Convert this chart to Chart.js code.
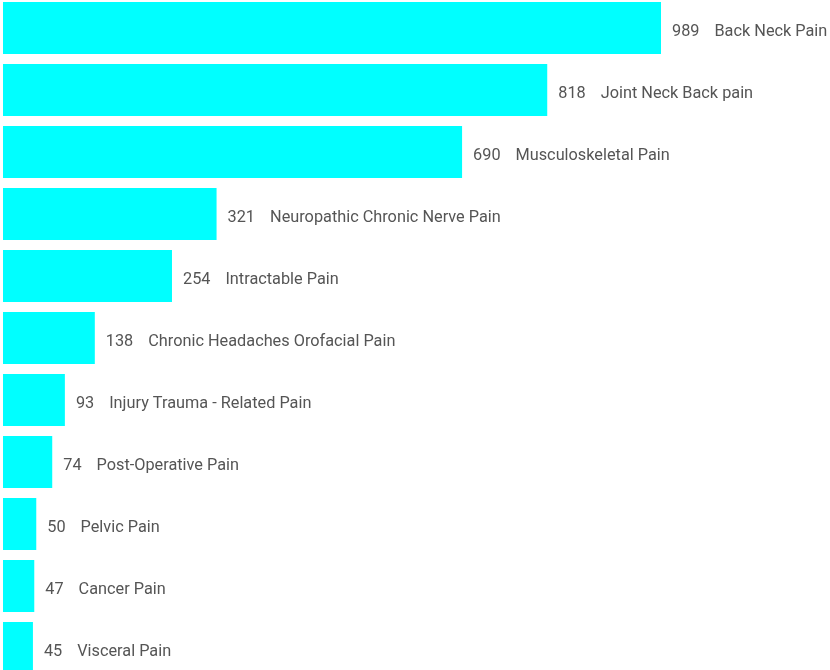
<!DOCTYPE html>
<html>
<head>
<meta charset="utf-8">
<script src="https://cdn.jsdelivr.net/npm/chart.js@4.4.0/dist/chart.umd.min.js"></script>
<style>
  html, body { margin: 0; padding: 0; background: #fff; overflow: hidden; }
  #wrap { position: absolute; left: 0; top: -3px; width: 830px; height: 682px; }
</style>
</head>
<body>
<div id="wrap"><canvas id="painChart"></canvas></div>
<script>
const categories = [
  "Back Neck Pain", "Joint Neck Back pain", "Musculoskeletal Pain",
  "Neuropathic Chronic Nerve Pain", "Intractable Pain",
  "Chronic Headaches Orofacial Pain", "Injury Trauma - Related Pain",
  "Post-Operative Pain", "Pelvic Pain", "Cancer Pain", "Visceral Pain"
];
const counts = [989, 818, 690, 321, 254, 138, 93, 74, 50, 47, 45];

// draws "value   name" just right of each bar
const barLabels = {
  id: "barLabels",
  afterDatasetsDraw(chart) {
    const ctx = chart.ctx;
    const meta = chart.getDatasetMeta(0);
    ctx.save();
    ctx.font = "16.3px Roboto";
    ctx.fillStyle = "#555";
    ctx.textBaseline = "middle";
    meta.data.forEach((bar, i) => {
      const x = bar.x + 11;
      const y = bar.y + 4;
      const num = String(counts[i]);
      ctx.fillText(num, x, y);
      ctx.fillText(categories[i], x + ctx.measureText(num).width + 15, y);
    });
    ctx.restore();
  }
};

const ctx = document.getElementById("painChart");
const painChart = new Chart(ctx, {
  type: "bar",
  data: {
    labels: categories,
    datasets: [{
      data: counts,
      backgroundColor: "#00FFFF",
      borderWidth: 0,
      barPercentage: 0.84,
      categoryPercentage: 1.0
    }]
  },
  options: {
    indexAxis: "y",
    responsive: true,
    maintainAspectRatio: false,
    animation: false,
    layout: { padding: { left: 3, right: 0, top: 0, bottom: 0 } },
    plugins: { legend: { display: false }, tooltip: { enabled: false } },
    scales: {
      x: { display: false, min: 0, max: 1243 },
      y: { display: false }
    }
  },
  plugins: [barLabels]
});
painChart;
</script>
</body>
</html>
